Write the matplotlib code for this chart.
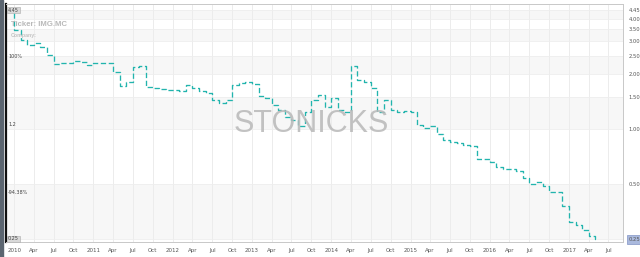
import numpy as np
import pandas as pd
import matplotlib
matplotlib.use('Agg')
import matplotlib.pyplot as plt
import matplotlib.dates as mdates
from matplotlib.patches import Rectangle

# monthly close (approx), Dec 2009 .. May 2017
dates = ['2009-12-10'] + [str(d.date()) for d in pd.date_range('2010-01-01', '2017-05-01', freq='MS')] + ['2017-05-15']
prices = [4.46,
          3.47, 3.06, 2.87, 2.94, 2.80, 2.53, 2.26, 2.29, 2.29, 2.35, 2.32, 2.23,
          2.29, 2.29, 2.29, 2.04, 1.71, 1.80, 2.17, 2.20, 1.69, 1.67, 1.65, 1.63,
          1.63, 1.61, 1.73, 1.67, 1.61, 1.57, 1.44, 1.38, 1.44, 1.73, 1.78, 1.80,
          1.76, 1.51, 1.47, 1.35, 1.27, 1.16, 1.12, 1.04, 1.24, 1.44, 1.53, 1.32,
          1.47, 1.27, 1.24, 2.20, 1.85, 1.80, 1.67, 1.24, 1.44, 1.27, 1.24, 1.25,
          1.24, 1.05, 1.01, 1.04, 0.94, 0.87, 0.85, 0.84, 0.82, 0.81, 0.68, 0.68,
          0.66, 0.62, 0.60, 0.60, 0.59, 0.54, 0.50, 0.51, 0.49, 0.45, 0.45, 0.38,
          0.31, 0.30, 0.28, 0.26, 0.25,
          0.25]

right_ticks = [0.25, 0.50, 1.00, 1.50, 2.00, 2.50, 3.00, 3.50, 4.00, 4.45]
right_labels = ['0.25', '0.50', '1.00', '1.50', '2.00', '2.50', '3.00', '3.50', '4.00', '4.45']
bands = [(0.25, 0.5), (1.0, 1.5), (2.0, 2.5), (3.0, 3.5), (4.0, 4.45)]
left_labels = [('4.45', 10), ('100%', 56), ('1.2', 124), ('-94.38%', 193), ('0.25', 239)]

W, H = 640, 257
fig = plt.figure(figsize=(W / 100, H / 100), dpi=100)
fig.patch.set_facecolor('white')
ax = fig.add_axes([6 / W, 1 - 242 / H, (623 - 6) / W, (242 - 4) / H])

x = pd.to_datetime(dates)
ax.set_yscale('log')
ax.set_ylim(0.241, 4.80)
ax.set_xlim(pd.Timestamp('2009-11-24'), pd.Timestamp('2017-09-06'))

# shaded bands + grid
for lo, hi in bands:
    ax.axhspan(lo, hi, color='#f7f7f7', lw=0, zorder=0)
qticks = pd.date_range('2010-01-01', '2017-07-01', freq='QS')
for t in qticks:
    ax.axvline(t, color='#ececec', lw=0.7, zorder=1)
for v in right_ticks:
    ax.axhline(v, color='#eeeeee', lw=0.6, zorder=1)

ax.plot(x, prices, drawstyle='steps-post', color='#22b4ad', lw=0.95,
        linestyle=(0, (4, 2)), zorder=3)

# x axis
ax.set_xticks(qticks)
ax.set_xticklabels([str(t.year) if t.month == 1 else t.strftime('%b') for t in qticks])
ax.tick_params(axis='x', length=0, pad=4, labelsize=4, labelcolor='#555555')

# right price axis
ax.yaxis.tick_right()
ax.minorticks_off()
ax.set_yticks(right_ticks)
ax.set_yticklabels(right_labels)
ax.tick_params(axis='y', length=0, pad=4, labelsize=3.8, labelcolor='#555555')
ax.get_yticklabels()[0].set_bbox(dict(boxstyle='square,pad=0.3', fc='#aab9dd', ec='#8194c6', lw=0.5))

for s in ['top', 'right', 'bottom']:
    ax.spines[s].set_color('#c8c8c8')
    ax.spines[s].set_linewidth(0.7)
ax.spines['left'].set_color('#111111')
ax.spines['left'].set_linewidth(1.6)

# left labels
for txt, yp in left_labels:
    kw = {}
    if txt in ('4.45', '0.25'):
        kw['bbox'] = dict(boxstyle='square,pad=0.2', fc='#d9d9d9', ec='#aaaaaa', lw=0.4)
    fig.text(8 / W, 1 - yp / H, txt, fontsize=3.5, color='#444444', va='center', ha='left', **kw)

# window edge
fig.patches.append(Rectangle((0, 0), 2.5 / W, 1, transform=fig.transFigure, color='#5b6570', zorder=5))

fig.text(11 / W, 1 - 24 / H, 'Ticker: IMG.MC', fontsize=5.6, fontweight='bold', color='#b9b9b9',
         family='Liberation Sans', va='center', ha='left')
fig.text(11 / W, 1 - 35 / H, 'Company:', fontsize=3.8, fontweight='bold', color='#c2c2c2',
         family='Liberation Sans', va='center', ha='left')
fig.text(311 / W, 1 - 124 / H, 'STONICKS', fontsize=22, color='#b8b8b8', alpha=0.85,
         family='Liberation Sans', va='center', ha='center', zorder=10)

fig.savefig('out.png', dpi=100)
